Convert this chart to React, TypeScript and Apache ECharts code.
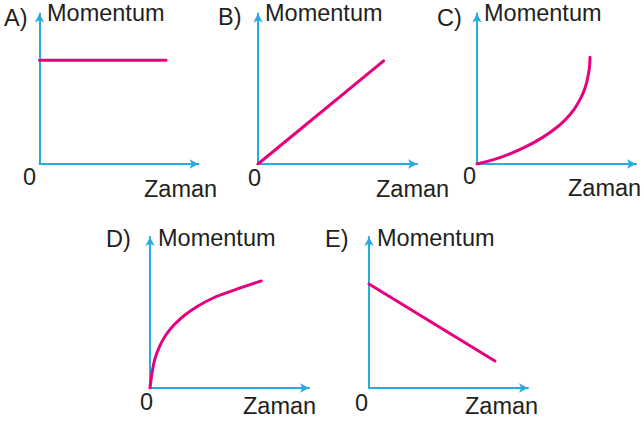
import React, { useEffect, useRef } from "react";
import * as echarts from "echarts";

// Panel letters and axis labels
const panelLabels = ["A)", "B)", "C)", "D)", "E)"];
const yAxisName = "Momentum";
const xAxisName = "Zaman";
const originLabel = "0";

// Series values (x = Zaman, y = Momentum), axes run 0..10
const seriesA: number[][] = [[0, 6.9], [7.95, 6.9]];
const seriesB: number[][] = [[0, 0], [7.9, 6.85]];
const seriesC: number[][] = [
  [0, 0], [0.99, 0.27], [2.03, 0.66], [3.08, 1.15], [4.13, 1.77],
  [4.97, 2.39], [5.6, 2.99], [6.12, 3.65], [6.44, 4.21], [6.69, 4.76],
  [6.9, 5.43], [7.03, 6.09], [7.09, 6.64], [7.11, 7.09],
];
const seriesD: number[][] = [
  [0, 0], [0.13, 1.01], [0.3, 1.9], [0.61, 2.78], [1.03, 3.56],
  [1.55, 4.22], [2.18, 4.82], [3.02, 5.43], [4.07, 6.01], [5.11, 6.42],
  [6.16, 6.8], [7.0, 7.09],
];
const seriesE: number[][] = [[0, 6.89], [7.92, 1.79]];
const allSeries = [seriesA, seriesB, seriesC, seriesD, seriesE];
const smoothFlags = [false, false, true, true, false];

const BLUE = "#29abe2";
const MAGENTA = "#e6007e";
const TEXT = "#231f20";
const FONT = '23.5px "Liberation Sans", Arial, sans-serif';

// Layout for each panel
const grids = [
  { left: 39.5, top: 13.5, width: 159, height: 150.5 },
  { left: 258, top: 13.5, width: 159, height: 150.5 },
  { left: 477, top: 13.5, width: 159, height: 150.5 },
  { left: 150, top: 237, width: 159, height: 151 },
  { left: 369, top: 237, width: 159, height: 151 },
];
const labelPos = [
  { letter: [4, 18], mom: [47, 13.4], zero: [23, 177], zaman: [144, 188.5] },
  { letter: [218, 17], mom: [265, 13.4], zero: [248, 177.5], zaman: [376, 188.5] },
  { letter: [437, 18], mom: [484, 13.4], zero: [463, 176], zaman: [568, 188] },
  { letter: [106, 239], mom: [158, 238], zero: [140, 402], zaman: [243, 406] },
  { letter: [325, 239], mom: [377, 238], zero: [355, 402.5], zaman: [465, 405.5] },
];

function txt(text: string, x: number, y: number) {
  return {
    type: "text",
    x,
    y,
    style: {
      text,
      fill: TEXT,
      font: FONT,
      textVerticalAlign: "middle",
      verticalAlign: "middle",
    },
  };
}

export default function App() {
  const ref = useRef<HTMLDivElement>(null);
  useEffect(() => {
    if (!ref.current) return;
    const chart = echarts.init(ref.current, undefined, { renderer: "svg" });
    const axisCommon = {
      type: "value",
      min: 0,
      max: 10,
      axisLine: {
        show: true,
        symbol: ["none", "arrow"],
        symbolSize: [7, 9],
        lineStyle: { color: BLUE, width: 2 },
      },
      axisTick: { show: false },
      axisLabel: { show: false },
      splitLine: { show: false },
    };
    const graphic: any[] = [];
    labelPos.forEach((p, i) => {
      graphic.push(txt(panelLabels[i], p.letter[0], p.letter[1]));
      graphic.push(txt(yAxisName, p.mom[0], p.mom[1]));
      graphic.push(txt(originLabel, p.zero[0], p.zero[1]));
      graphic.push(txt(xAxisName, p.zaman[0], p.zaman[1]));
    });
    chart.setOption({
      animation: false,
      grid: grids.map((g) => ({ ...g, containLabel: false })),
      xAxis: grids.map((_, i) => ({ ...axisCommon, gridIndex: i })),
      yAxis: grids.map((_, i) => ({ ...axisCommon, gridIndex: i })),
      series: allSeries.map((d, i) => ({
        type: "line",
        xAxisIndex: i,
        yAxisIndex: i,
        data: d,
        smooth: smoothFlags[i] ? 0.3 : false,
        showSymbol: false,
        symbol: "none",
        lineStyle: { color: MAGENTA, width: 3, cap: "round" },
        z: 3,
      })),
      graphic,
    });
    return () => chart.dispose();
  }, []);
  return (
    <div
      ref={ref}
      style={{ width: 644, height: 421, position: "absolute", left: 0, top: 0, background: "#fff" }}
    />
  );
}
